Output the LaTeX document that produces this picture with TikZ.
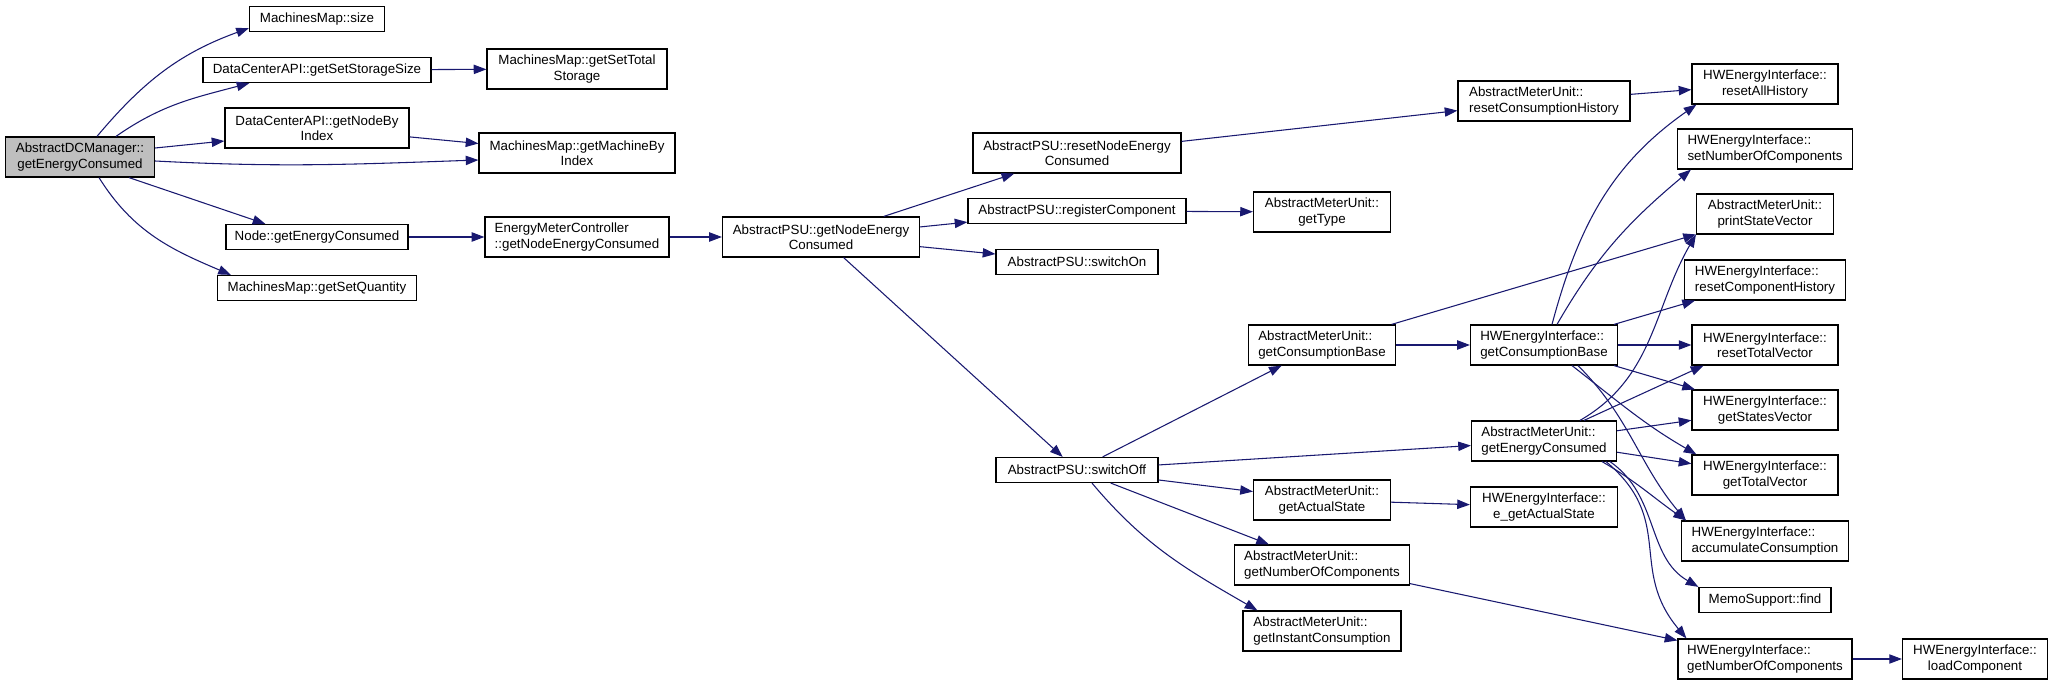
\documentclass[tikz,border=0pt]{standalone}
\usepackage{fontspec}
\setmainfont{Liberation Sans}
\usetikzlibrary{arrows.meta,calc}

\definecolor{callblue}{HTML}{191970}
\definecolor{curgray}{HTML}{BFBFBF}

\begin{document}
\begin{tikzpicture}[
  x=0.75pt, y=0.75pt,
  font=\fontsize{10}{11.5}\selectfont,
  >={Triangle[length=9.5pt,width=7pt]},
  fn/.style={draw=black, line width=0.9pt, fill=white, inner sep=0pt,
             minimum height=40*0.75pt, align=center},
  fnl/.style={fn, align=left},
  fn1/.style={fn, minimum height=25*0.75pt},
  cur/.style={fn, fill=curgray},
  bw/.style={minimum width=#1*0.75pt},
  call/.style={->, draw=callblue, line width=0.8pt},
]
\useasboundingbox (0,0) rectangle (2053,-684);

% ===== caller =====
\node[cur, bw=149] (dcm) at (80,-157) {AbstractDCManager::\\getEnergyConsumed};

% ===== MachinesMap / DataCenterAPI / Node =====
\node[fn1, bw=135] (mmsize) at (317,-19) {MachinesMap::size};
\node[fn1, bw=228] (dcsss) at (317,-70) {DataCenterAPI::getSetStorageSize};
\node[fn, bw=180] (mmtotal) at (577,-69) {MachinesMap::getSetTotal\\Storage};
\node[fn, bw=184] (dcnode) at (317,-128) {DataCenterAPI::getNodeBy\\Index};
\node[fn, bw=196] (mmmach) at (577,-153) {MachinesMap::getMachineBy\\Index};
\node[fn1, bw=182] (nodeec) at (317,-237) {Node::getEnergyConsumed};
\node[fn1, bw=199] (mmqty) at (317,-288) {MachinesMap::getSetQuantity};
\node[fnl, bw=184] (emc) at (577,-237) {EnergyMeterController\\::getNodeEnergyConsumed};

% ===== AbstractPSU =====
\node[fn, bw=197] (psunode) at (821,-237) {AbstractPSU::getNodeEnergy\\Consumed};
\node[fn, bw=208] (psureset) at (1077,-153) {AbstractPSU::resetNodeEnergy\\Consumed};
\node[fn1, bw=218] (psureg) at (1077,-211) {AbstractPSU::registerComponent};
\node[fn1, bw=162] (psuon) at (1077,-262) {AbstractPSU::switchOn};
\node[fn1, bw=162] (psuoff) at (1077,-470) {AbstractPSU::switchOff};

% ===== AbstractMeterUnit =====
\node[fnl, bw=172] (amureset) at (1544,-101) {AbstractMeterUnit::\\resetConsumptionHistory};
\node[fn, bw=137] (amutype) at (1322,-212) {AbstractMeterUnit::\\getType};
\node[fnl, bw=147] (amubase) at (1322,-345) {AbstractMeterUnit::\\getConsumptionBase};
\node[fn, bw=137] (amustate) at (1322,-500) {AbstractMeterUnit::\\getActualState};
\node[fnl, bw=175] (amunum) at (1322,-565) {AbstractMeterUnit::\\getNumberOfComponents};
\node[fnl, bw=158] (amuinst) at (1322,-631) {AbstractMeterUnit::\\getInstantConsumption};
\node[fnl, bw=145] (amuec) at (1544,-441) {AbstractMeterUnit::\\getEnergyConsumed};
\node[fnl, bw=147] (hwbase) at (1544,-345) {HWEnergyInterface::\\getConsumptionBase};
\node[fn, bw=147] (hwestate) at (1544,-507) {HWEnergyInterface::\\e\_getActualState};

% ===== HWEnergyInterface column =====
\node[fn, bw=146] (hwall) at (1765,-84) {HWEnergyInterface::\\resetAllHistory};
\node[fnl, bw=175] (hwsetnum) at (1765,-149) {HWEnergyInterface::\\setNumberOfComponents};
\node[fn, bw=137] (amuprint) at (1765,-214) {AbstractMeterUnit::\\printStateVector};
\node[fnl, bw=161] (hwcomp) at (1765,-280) {HWEnergyInterface::\\resetComponentHistory};
\node[fn, bw=146] (hwtotal) at (1765,-345) {HWEnergyInterface::\\resetTotalVector};
\node[fn, bw=146] (hwstates) at (1765,-410) {HWEnergyInterface::\\getStatesVector};
\node[fn, bw=146] (hwgettotal) at (1765,-475) {HWEnergyInterface::\\getTotalVector};
\node[fnl, bw=167] (hwacc) at (1765,-541) {HWEnergyInterface::\\accumulateConsumption};
\node[fn1, bw=132] (memo) at (1765,-600) {MemoSupport::find};
\node[fnl, bw=174] (hwnum) at (1765,-659) {HWEnergyInterface::\\getNumberOfComponents};
\node[fn, bw=145] (hwload) at (1975,-659) {HWEnergyInterface::\\loadComponent};

% ===== calls from the caller =====
\draw[call] ($(dcm.north)+(17,0)$) to[out=50,in=200] ($(mmsize.south west)+(0,4)$);
\draw[call] ($(dcm.north)+(36,0)$) to[out=35,in=195] ($(dcsss.south west)+(47,0)$);
\draw[call] ($(dcm.east)+(0,9)$) -- ($(dcnode.west)+(0,-13)$);
\draw[call] ($(dcm.east)+(0,-4)$) to[out=-3,in=182] ($(mmmach.west)+(0,-7)$);
\draw[call] ($(dcm.south)+(49,0)$) -- ($(nodeec.north west)+(40,0)$);
\draw[call] ($(dcm.south)+(19,0)$) to[out=-58,in=157] ($(mmqty.north west)+(14,0)$);
\draw[call] (dcsss) -- (mmtotal);
\draw[call] (dcnode) -- (mmmach);
\draw[call] (nodeec) -- (emc);
\draw[call] (emc) -- (psunode);

% ===== AbstractPSU calls =====
\draw[call] (psunode) -- (psureset);
\draw[call] (psunode) -- (psureg);
\draw[call] (psunode) -- (psuon);
\draw[call] (psunode) -- (psuoff);
\draw[call] (psureset) -- (amureset);
\draw[call] (psureg) -- (amutype);
\draw[call] (amureset) -- (hwall);
\draw[call] (psuoff) -- (amubase);
\draw[call] (psuoff) -- (amuec);
\draw[call] (psuoff) -- (amustate);
\draw[call] (psuoff) -- (amunum);
\draw[call] ($(psuoff.south)+(15,0)$) to[out=-50,in=150] ($(amuinst.north west)+(15,0)$);

% ===== meter unit calls =====
\draw[call] (amubase) -- (hwbase);
\draw[call] (amubase) -- (amuprint);
\draw[call] (amustate) -- (hwestate);
\draw[call] (amunum) -- (hwnum);
\draw[call] (hwnum) -- (hwload);

% HWEnergyInterface::getConsumptionBase fans out
\draw[call] ($(hwbase.north)+(8,0)$) to[out=75,in=215] ($(hwall.south west)+(5,0)$);
\draw[call] ($(hwbase.north)+(13,0)$) to[out=60,in=220] ($(hwsetnum.south west)+(14,0)$);
\draw[call] (hwbase) -- (hwcomp);
\draw[call] (hwbase) -- (hwtotal);
\draw[call] (hwbase) -- (hwstates);
\draw[call] ($(hwbase.south)+(28,0)$) to[out=-38,in=150] ($(hwgettotal.north west)+(5,0)$);
\draw[call] ($(hwbase.south)+(34,0)$) to[out=-45,in=130] ($(hwacc.north west)+(5,0)$);

% AbstractMeterUnit::getEnergyConsumed fans out
\draw[call] ($(amuec.north)+(36,0)$) to[out=30,in=-120] (amuprint.south west);
\draw[call] ($(amuec.north)+(40,0)$) -- ($(hwtotal.south west)+(12,0)$);
\draw[call] (amuec) -- (hwstates);
\draw[call] (amuec) -- (hwgettotal);
\draw[call] ($(amuec.south)+(58,0)$) to[out=-30,in=145] ($(hwacc.north west)+(5,0)$);
\draw[call] ($(amuec.south)+(66,0)$) to[out=-35,in=150] (memo.north west);
\draw[call] ($(amuec.south)+(62,0)$) to[out=-40,in=130,looseness=1.2] ($(hwnum.north west)+(9,0)$);
\end{tikzpicture}
\end{document}
